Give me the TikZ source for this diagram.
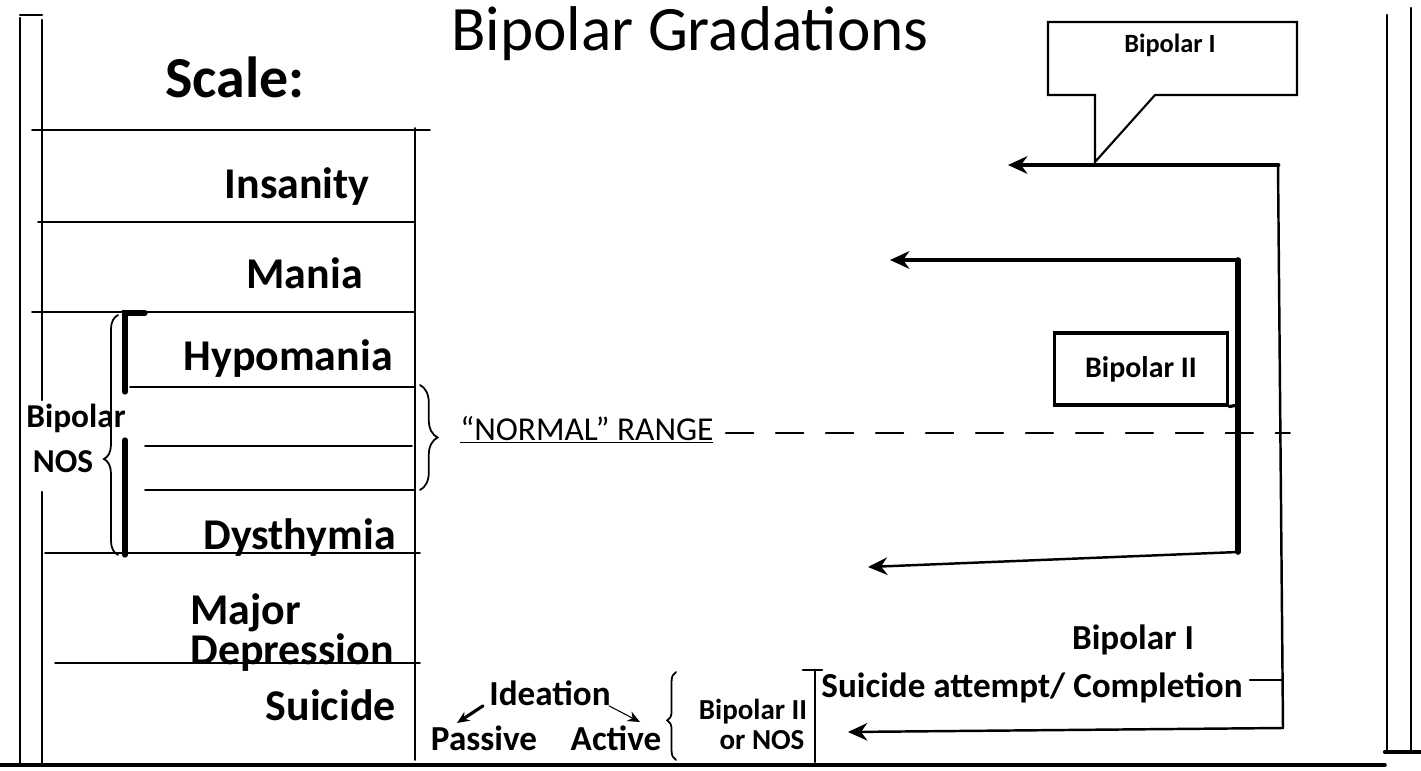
\documentclass[tikz,border=0pt]{standalone}
\usepackage{fontspec}
\setmainfont{Carlito}
\usetikzlibrary{arrows, arrows.meta, positioning, decorations.pathreplacing}

\begin{document}
\begin{tikzpicture}[x=0.02cm, y=-0.02cm, line cap=round]
    % Styles
    \tikzstyle{rowlabel} = [font=\fontsize{25}{21}\selectfont\bfseries, inner sep=0pt]
    \tikzstyle{small} = [font=\fontsize{20}{22}\selectfont\bfseries, inner sep=0pt]
    \tikzstyle{tiny} = [font=\fontsize{16.5}{18}\selectfont\bfseries, inner sep=0pt]
    \tikzstyle{frame} = [line width=1.4pt]
    \tikzstyle{rule} = [line width=1.1pt]
    \tikzstyle{arrow} = [->,>={Stealth[length=11pt,width=10pt]}]
    \tikzstyle{thinarrow} = [->,>={Stealth[length=7pt,width=6pt]}]
    \tikzstyle{heavy} = [line width=2.8pt]
    \tikzstyle{curly} = [decorate, line width=1pt]
    \useasboundingbox (0,0) rectangle (1421,771);

    % Titles
    \node[font=\fontsize{36}{40}\selectfont, inner sep=0pt, anchor=base] (title) at (690,50) {Bipolar Gradations};
    \node[font=\fontsize{33}{36}\selectfont\bfseries, inner sep=0pt, anchor=base west] (scale) at (165,97) {Scale:};

    % Frame
    \draw[frame] (20,18) -- (20,765);
    \draw[frame] (20,15) -- (42,15);
    \draw[frame] (42,20) -- (42,400);
    \draw[frame] (42,492) -- (42,765);
    \draw[frame] (1387,15) -- (1387,750);
    \draw[frame] (1411,8) -- (1411,750);
    \draw[line width=2pt] (0,765) -- (1385,765);
    \draw[line width=2.4pt] (1385,752) -- (1421,752);

    % Scale table
    \draw[rule] (415,128) -- (415,760);
    \draw[rule] (32,130) -- (430,130);
    \draw[rule] (38,222) -- (415,222);
    \draw[rule] (32,312) -- (415,312);
    \draw[rule] (130,387) -- (415,387);
    \draw[rule] (145,446) -- (412,446);
    \draw[rule] (145,490) -- (415,490);
    \draw[rule] (45,553) -- (420,553);
    \draw[rule] (55,663) -- (420,663);

    % Scale rows
    \node[rowlabel, anchor=base east] (insanity) at (370,198) {Insanity};
    \node[rowlabel, anchor=base east] (mania) at (363,288) {Mania};
    \node[rowlabel, anchor=base east] (hypomania) at (393,370) {Hypomania};
    \node[rowlabel, anchor=base east] (dysthymia) at (396,549) {Dysthymia};
    \node[rowlabel, anchor=north west, align=left] (majordep) at (190,593) {Major\\Depression};
    \node[rowlabel, anchor=base east] (suicide) at (396,720) {Suicide};

    % Bipolar NOS bracket
    \draw[line width=3pt] (145,313) -- (125,313) -- (125,392);
    \draw[line width=3pt] (125,440) -- (125,555);
    \draw[curly, decoration={brace, amplitude=8pt, aspect=0.4}] (118,555) -- (118,315);
    \node[small, font=\fontsize{19}{20}\selectfont\bfseries] (bpnos) at (76,418) {Bipolar};
    \node[small, font=\fontsize{19}{20}\selectfont\bfseries] (nos) at (63,462) {NOS};

    % Normal range
    \draw[curly, decoration={brace, amplitude=10pt}] (420,385) -- (420,490);
    \node[font=\fontsize{19}{20}\selectfont, inner sep=0pt, anchor=base west] (normal) at (460,440) {\underline{“NORMAL” RANGE}};
    \coordinate (nrend) at (1290,433);
    \draw[rule, dash pattern=on 0.55cm off 0.45cm] (normal.east |- nrend) ++(12,0) -- (nrend);

    % Bipolar I callout
    \draw[line width=1.2pt] (1048,22) -- (1297,22) -- (1297,95) -- (1155,95) -- (1095,162) -- (1095,95) -- (1048,95) -- cycle;
    \node[font=\fontsize{15}{16}\selectfont\bfseries, inner sep=0pt] (bp1call) at (1170,45) {Bipolar I};

    % Bipolar I path
    \coordinate (b1top) at (1278,165);
    \coordinate (b1left) at (1008,165);
    \coordinate (b1bot) at (1283,728);
    \coordinate (b1end) at (848,732);
    \coordinate (b1stub) at (1250,680);
    \draw[heavy, arrow] (b1top) -- (b1left);
    \draw[frame] (b1top) -- (b1bot);
    \draw[frame] (b1stub) -- (b1stub -| b1bot);
    \draw[frame, arrow] (b1bot) -- (b1end);

    % Bipolar II path
    \node[draw, line width=1.8pt, minimum width=173*0.02cm, minimum height=72*0.02cm, font=\fontsize{17}{18}\selectfont\bfseries] (bp2box) at (1141,369) {Bipolar II};
    \coordinate (b2top) at (1238,260);
    \coordinate (b2left) at (890,260);
    \coordinate (b2bot) at (1238,552);
    \coordinate (b2end) at (868,567);
    \draw[heavy, arrow] (b2top) -- (b2left);
    \draw[line width=3.2pt] (b2top) -- (b2bot);
    \draw[frame, arrow] (b2bot) -- (b2end);
    \draw[line width=1.8pt] (bp2box.south east) -- (1238,405);

    % Suicide spectrum
    \node[small] (bp1low) at (1133,640) {Bipolar I};
    \node[small] (attempt) at (1032,688) {Suicide attempt/ Completion};
    \node[small] (ideation) at (550,693) {Ideation};
    \node[small] (passive) at (484,738) {Passive};
    \node[small] (active) at (616,738) {Active};
    \coordinate (pastip) at (457,723);
    \coordinate (acttip) at (640,722);
    \draw[line width=1.8pt, thinarrow] (ideation.south west) ++(-6,0) -- (pastip);
    \draw[line width=0.6pt, thinarrow] (ideation.south east) ++(-2,0) -- (acttip);

    % Bipolar II or NOS
    \draw[curly, decoration={brace, amplitude=5pt, aspect=0.45}] (676,760) -- (676,672);
    \node[tiny] (bp2nos) at (753,712) {Bipolar II};
    \node[tiny] (ornos) at (762,740) {or NOS};
    \draw[line width=1.6pt] (803,670) -- (822,670);
    \draw[line width=1.6pt] (815,670) -- (815,762);
\end{tikzpicture}
\end{document}
